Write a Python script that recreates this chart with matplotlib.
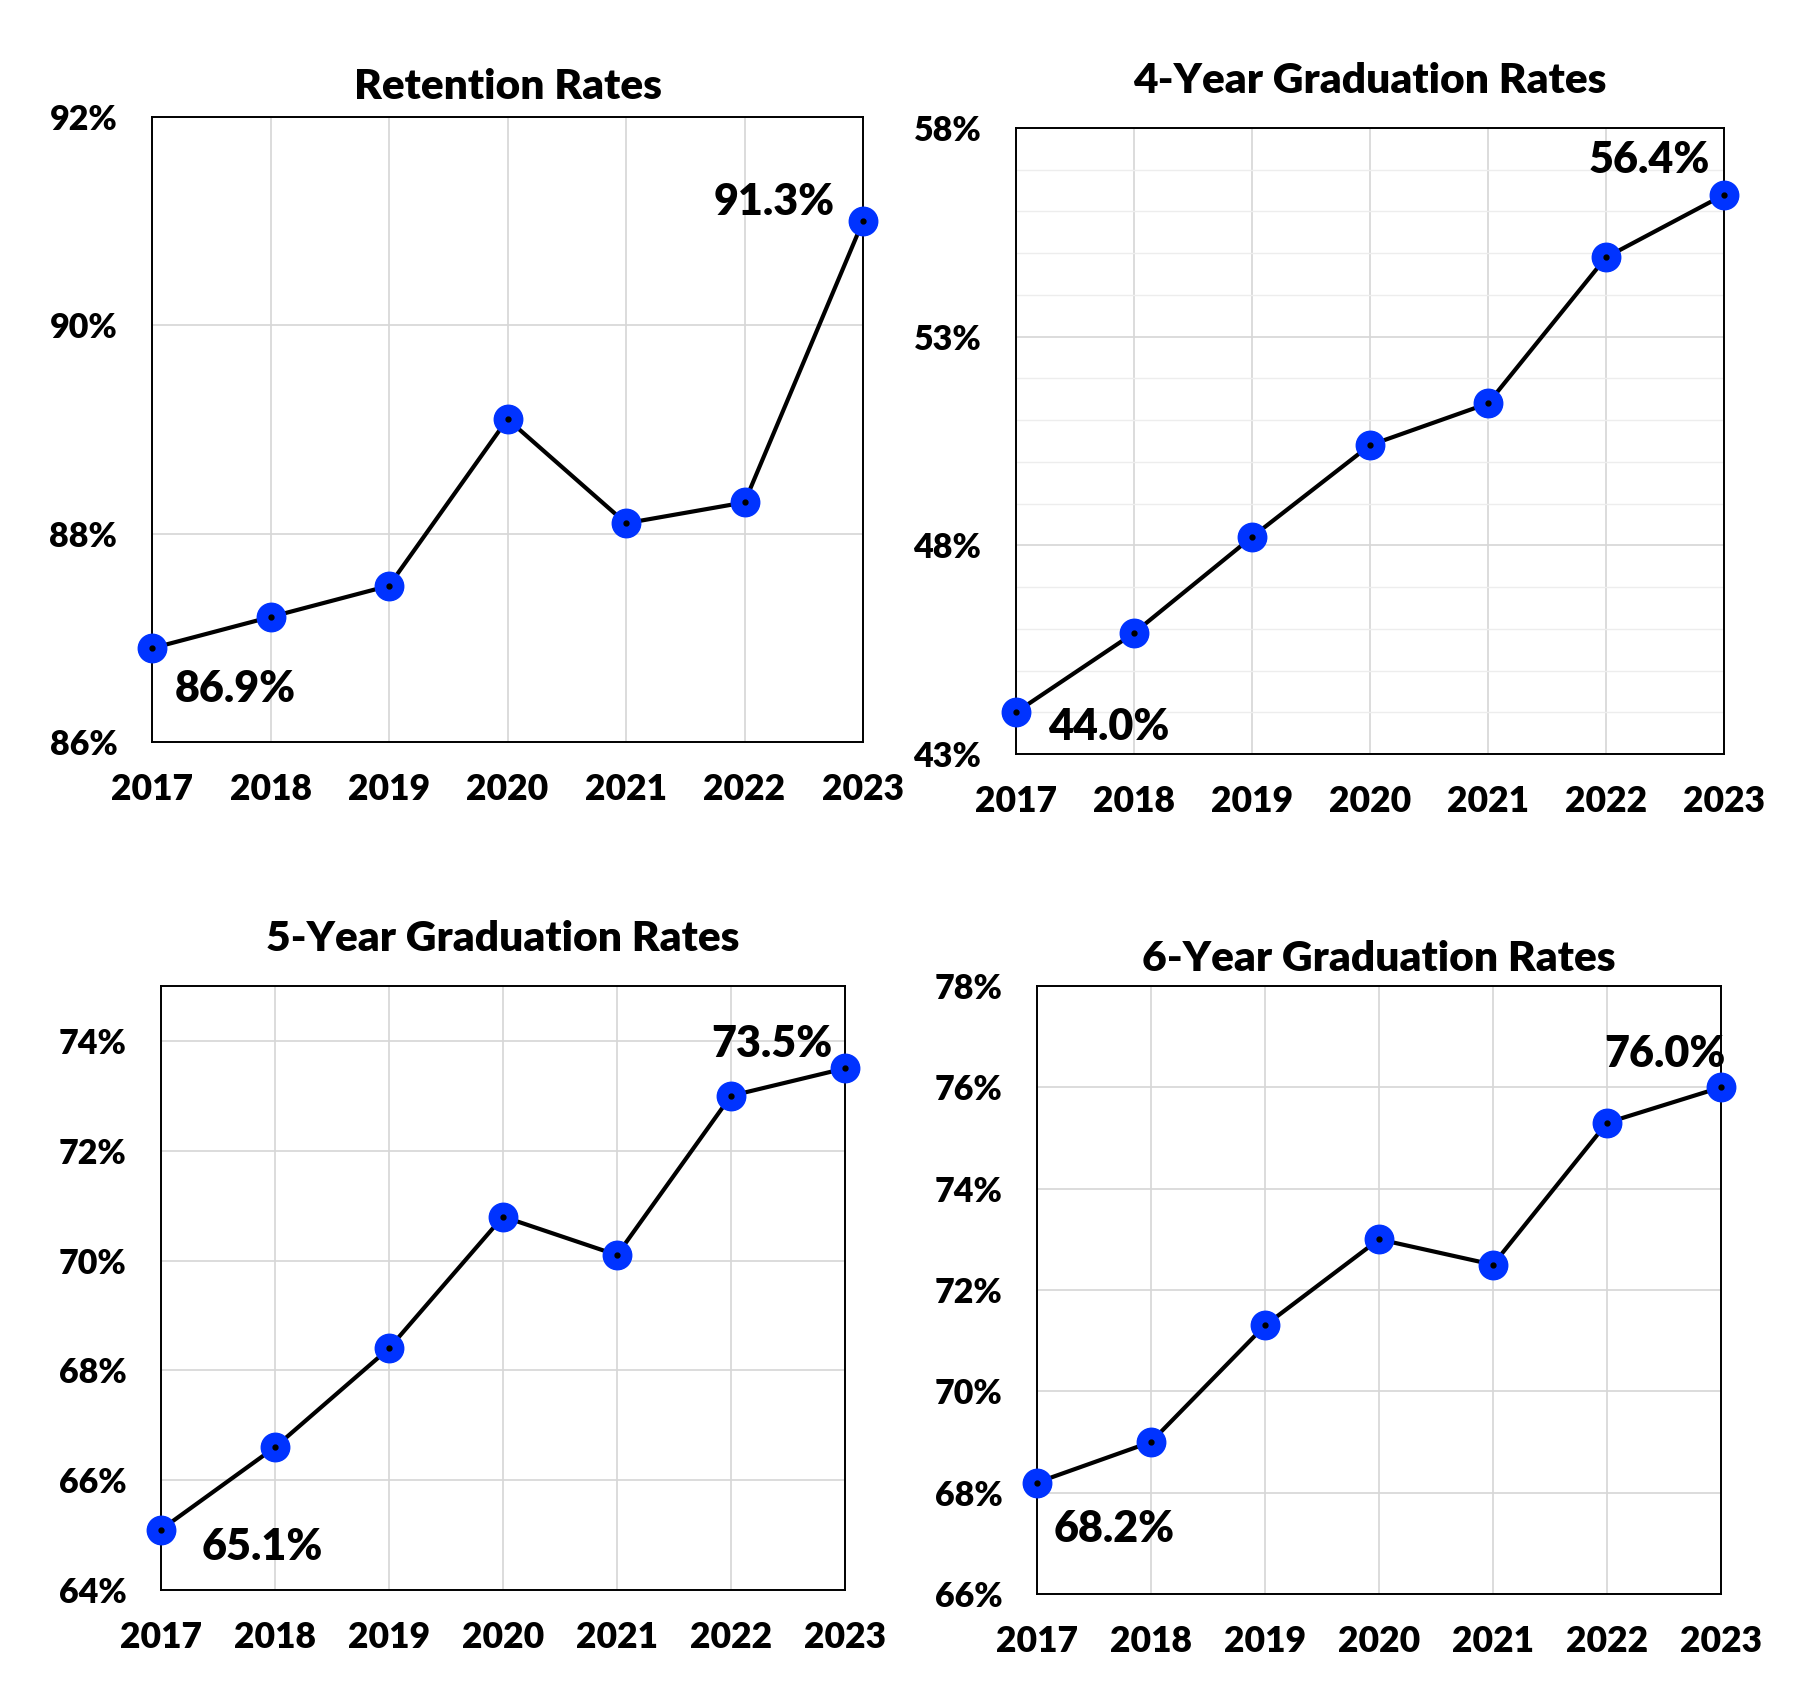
import matplotlib
matplotlib.use("Agg")
import matplotlib.pyplot as plt
from matplotlib.ticker import FixedLocator, FuncFormatter, MultipleLocator

plt.rcParams['font.family'] = ['Lato', 'DejaVu Sans']
WEIGHT = 'heavy'
plt.rcParams['font.weight'] = WEIGHT

years = [2017, 2018, 2019, 2020, 2021, 2022, 2023]

retention = [86.9, 87.2, 87.5, 89.1, 88.1, 88.3, 91.0]
grad4 = [44.0, 45.9, 48.2, 50.4, 51.4, 54.9, 56.4]
grad5 = [65.1, 66.6, 68.4, 70.8, 70.1, 73.0, 73.5]
grad6 = [68.2, 69.0, 71.3, 73.0, 72.5, 75.3, 76.0]

titles = ["Retention Rates", "4-Year Graduation Rates",
          "5-Year Graduation Rates", "6-Year Graduation Rates"]
first_labels = ["86.9%", "44.0%", "65.1%", "68.2%"]
last_labels = ["91.3%", "56.4%", "73.5%", "76.0%"]

W, H = 1809, 1698
fig = plt.figure(figsize=(W / 100, H / 100), dpi=100)

# axes boxes in pixels: left, right, top, bottom
boxes = [(152, 863, 117, 742), (1016, 1724, 128, 754),
         (161, 845, 986, 1590), (1037, 1721, 986, 1594)]
ylims = [(86, 92), (43, 58), (64, 75), (66, 78)]
yticks = [[86, 88, 90, 92], [43, 48, 53, 58],
          [64, 66, 68, 70, 72, 74], [66, 68, 70, 72, 74, 76, 78]]
minor = [None, 1, None, None]
series = [retention, grad4, grad5, grad6]
title_pads = [13, 25, 25, 11]
# offsets in pixels (dx, dy) with dy positive = downward
first_off = [(23, 41), (32, 15), (41, 17), (17, 46)]
last_off = [(-28, -19), (-14, -35), (-13, -24), (5, -33)]

for i in range(4):
    l, r, t, b = boxes[i]
    ax = fig.add_axes([l / W, 1 - b / H, (r - l) / W, (b - t) / H])
    vals = series[i]
    ax.plot(years, vals, color='black', lw=3.0, zorder=3, clip_on=False)
    ax.plot(years, vals, 'o', ms=20.5, color='#0033ff', mec='#0033ff',
            zorder=4, clip_on=False)
    ax.plot(years, vals, 'o', ms=3.5, color='black', zorder=5, clip_on=False)
    ax.set_xlim(2017, 2023)
    ax.set_ylim(*ylims[i])
    ax.set_xticks(years)
    ax.set_xticklabels([str(y) for y in years])
    ax.yaxis.set_major_locator(FixedLocator(yticks[i]))
    ax.yaxis.set_major_formatter(FuncFormatter(lambda v, p: f"{v:.0f}%"))
    if minor[i]:
        ax.yaxis.set_minor_locator(MultipleLocator(minor[i]))
        ax.grid(True, which='minor', axis='y', color='#ededed', lw=1.0, zorder=0)
    ax.grid(True, which='major', color='#d6d6d6', lw=1.2, zorder=0)
    ax.set_axisbelow(True)
    ax.tick_params(axis='both', which='both', length=0)
    ax.tick_params(axis='y', labelsize=24.5, pad=25)
    ax.tick_params(axis='x', labelsize=25.5, pad=22)
    for lab in ax.get_xticklabels() + ax.get_yticklabels():
        lab.set_fontweight(WEIGHT)
    for s in ax.spines.values():
        s.set_linewidth(1.4)
        s.set_color('black')
    ax.set_title(titles[i], fontsize=30.5, fontweight=WEIGHT, pad=title_pads[i])
    dx, dy = first_off[i]
    ax.annotate(first_labels[i], (years[0], vals[0]), xytext=(dx, -dy),
                textcoords='offset pixels', ha='left', va='center',
                fontsize=31, fontweight=WEIGHT, zorder=6)
    dx, dy = last_off[i]
    ax.annotate(last_labels[i], (years[-1], vals[-1]), xytext=(dx, -dy),
                textcoords='offset pixels', ha='right', va='center',
                fontsize=31, fontweight=WEIGHT, zorder=6)

fig.savefig("out.png", dpi=100)
